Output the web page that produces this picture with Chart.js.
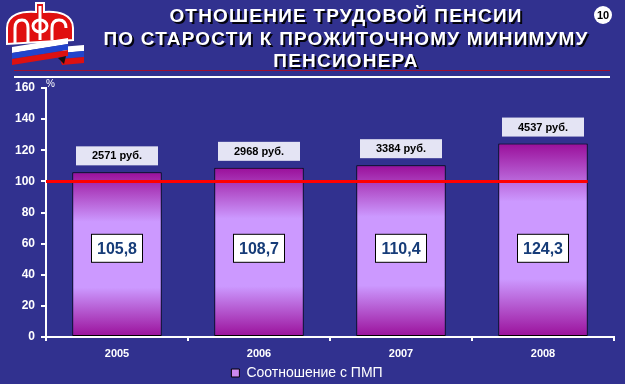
<!DOCTYPE html>
<html>
<head>
<meta charset="utf-8">
<script src="https://cdn.jsdelivr.net/npm/chart.js@4.4.1/dist/chart.umd.min.js"></script>
<style>
  html, body { margin: 0; padding: 0; background: #31318f; }
  #wrap { width: 625px; height: 384px; }
</style>
</head>
<body>
<div id="wrap"><canvas id="chart" width="625" height="384"></canvas></div>
<script>
const years = ['2005', '2006', '2007', '2008'];
const ratio = [105.8, 108.7, 110.4, 124.3];
const pension = [2571, 2968, 3384, 4537];
const subsistenceLevel = 100;
const titleLines = ['ОТНОШЕНИЕ ТРУДОВОЙ ПЕНСИИ', 'ПО СТАРОСТИ К ПРОЖИТОЧНОМУ МИНИМУМУ', 'ПЕНСИОНЕРА'];
const seriesName = 'Соотношение с ПМП';
const slideNo = '10';

const FONT = 'Arial, "Liberation Sans", sans-serif';

// per-bar vertical gradient: magenta at the ends, lavender in the middle
function barGradient(context) {
  const chart = context.chart;
  const area = chart.chartArea;
  if (!area || context.dataIndex === undefined) return '#cc88ee';
  const top = chart.scales.y.getPixelForValue(context.raw);
  const g = chart.ctx.createLinearGradient(0, top, 0, area.bottom);
  g.addColorStop(0, '#9a0f9a');
  g.addColorStop(0.3, '#cc99ff');
  g.addColorStop(0.7, '#cc99ff');
  g.addColorStop(1, '#9a0f9a');
  return g;
}

function drawLogo(ctx) {
  ctx.save();
  // red emblem with white rim
  ctx.beginPath();
  ctx.moveTo(7, 44);
  ctx.lineTo(7, 28);
  ctx.bezierCurveTo(7, 14, 22, 11, 36, 12);
  ctx.lineTo(36, 3);
  ctx.lineTo(44, 3);
  ctx.lineTo(44, 12);
  ctx.bezierCurveTo(58, 11, 73, 14, 73, 28);
  ctx.lineTo(73, 40);
  ctx.closePath();
  ctx.fillStyle = '#e01010';
  ctx.fill();
  ctx.strokeStyle = '#ffffff';
  ctx.lineWidth = 2;
  ctx.stroke();
  // inner white strokes forming the letters
  ctx.lineWidth = 3;
  ctx.beginPath();
  ctx.moveTo(15, 44); ctx.lineTo(15, 28);
  ctx.quadraticCurveTo(15, 20, 22, 20);
  ctx.quadraticCurveTo(28, 20, 28, 28);
  ctx.lineTo(28, 42);
  ctx.moveTo(40, 6); ctx.lineTo(40, 40);
  ctx.moveTo(52, 40); ctx.lineTo(52, 28);
  ctx.quadraticCurveTo(52, 20, 59, 20);
  ctx.quadraticCurveTo(66, 20, 66, 28);
  ctx.stroke();
  ctx.beginPath();
  ctx.ellipse(40, 26, 7, 6, 0, 0, Math.PI * 2);
  ctx.stroke();
  // flag ribbon
  const stripes = ['#ffffff', '#2244cc', '#dd1111'];
  stripes.forEach((c, i) => {
    ctx.fillStyle = c;
    ctx.beginPath();
    ctx.moveTo(12, 47 + i * 6);
    ctx.lineTo(68, 38 + i * 6);
    ctx.lineTo(68, 44 + i * 6);
    ctx.lineTo(12, 53 + i * 6);
    ctx.closePath();
    ctx.fill();
    ctx.beginPath();
    ctx.moveTo(60, 47 + i * 6);
    ctx.lineTo(84, 45 + i * 6);
    ctx.lineTo(84, 51 + i * 6);
    ctx.lineTo(62, 53 + i * 6);
    ctx.closePath();
    ctx.fill();
  });
  ctx.fillStyle = '#111';
  ctx.beginPath();
  ctx.moveTo(58, 58); ctx.lineTo(66, 56); ctx.lineTo(64, 64); ctx.closePath();
  ctx.fill();
  ctx.restore();
}

const slideDecor = {
  id: 'slideDecor',
  beforeDraw(chart) {
    const { ctx } = chart;
    ctx.save();
    ctx.fillStyle = '#31318f';
    ctx.fillRect(0, 0, chart.width, chart.height);
    drawLogo(ctx);

    // title with dark shadow
    ctx.font = 'bold 19px ' + FONT;
    ctx.letterSpacing = '1.2px';
    ctx.textAlign = 'center';
    ctx.textBaseline = 'middle';
    ctx.shadowColor = 'rgba(0,0,0,0.9)';
    ctx.shadowOffsetX = 2;
    ctx.shadowOffsetY = 2;
    ctx.fillStyle = '#ffffff';
    titleLines.forEach((t, i) => ctx.fillText(t, 346, 17 + i * 22.5));
    ctx.shadowColor = 'transparent';
    ctx.letterSpacing = '0px';

    // separator lines
    ctx.fillStyle = '#a01030';
    ctx.fillRect(14, 70, 596, 1);
    ctx.fillStyle = '#ffffff';
    ctx.fillRect(14, 76, 596, 2);

    // slide number
    ctx.beginPath();
    ctx.arc(603, 15, 9, 0, Math.PI * 2);
    ctx.fillStyle = '#ffffff';
    ctx.fill();
    ctx.fillStyle = '#000000';
    ctx.font = 'bold 11px ' + FONT;
    ctx.fillText(slideNo, 603, 15.5);

    // unit label
    ctx.fillStyle = '#ffffff';
    ctx.font = '10px ' + FONT;
    ctx.textAlign = 'left';
    ctx.fillText('%', 46, 84);
    ctx.restore();
  },
  afterDatasetsDraw(chart) {
    const { ctx, chartArea } = chart;
    const y = chart.scales.y;
    const bars = chart.getDatasetMeta(0).data;
    ctx.save();

    // subsistence minimum line
    const ly = y.getPixelForValue(subsistenceLevel);
    const last = bars[bars.length - 1];
    ctx.strokeStyle = '#ff0000';
    ctx.lineWidth = 3;
    ctx.beginPath();
    ctx.moveTo(chartArea.left, ly);
    ctx.lineTo(last.x + last.width / 2, ly);
    ctx.stroke();

    ctx.textAlign = 'center';
    ctx.textBaseline = 'middle';
    bars.forEach((bar, i) => {
      // ratio value box inside the bar
      const cy = y.getPixelForValue(57);
      ctx.fillStyle = '#ffffff';
      ctx.fillRect(bar.x - 25.5, cy - 14, 51, 28);
      ctx.strokeStyle = '#000000';
      ctx.lineWidth = 1;
      ctx.strokeRect(bar.x - 25.5, cy - 14, 51, 28);
      ctx.fillStyle = '#163c78';
      ctx.font = 'bold 16px ' + FONT;
      ctx.fillText(ratio[i].toFixed(1).replace('.', ','), bar.x, cy + 1);

      // pension amount above the bar
      const by = bar.y - 7;
      ctx.fillStyle = '#e4e4f4';
      ctx.fillRect(bar.x - 41, by - 19, 82, 19);
      ctx.fillStyle = '#000000';
      ctx.font = 'bold 11px ' + FONT;
      ctx.fillText(pension[i] + ' руб.', bar.x, by - 9);
    });
    ctx.restore();
  }
};

new Chart(document.getElementById('chart'), {
  type: 'bar',
  data: {
    labels: years,
    datasets: [{
      label: seriesName,
      data: ratio,
      backgroundColor: barGradient,
      borderColor: '#000000',
      borderWidth: 1,
      borderSkipped: false,
      barPercentage: 0.63,
      categoryPercentage: 1.0
    }]
  },
  options: {
    responsive: false,
    animation: false,
    layout: { padding: { top: 88, right: 11, left: 0, bottom: -6 } },
    plugins: {
      title: { display: false },
      tooltip: { enabled: false },
      legend: {
        position: 'bottom',
        labels: {
          color: '#ffffff',
          font: { family: FONT, size: 14 },
          boxWidth: 8,
          boxHeight: 8,
          padding: 4,
          generateLabels: () => [{
            text: seriesName,
            fillStyle: '#cc88ee',
            strokeStyle: '#000000',
            lineWidth: 1,
            fontColor: '#ffffff'
          }]
        }
      }
    },
    scales: {
      x: {
        afterFit: s => { s.height = 25; },
        grid: {
          offset: true,
          drawOnChartArea: false,
          drawTicks: true,
          tickLength: 4,
          tickColor: '#ffffff',
          lineWidth: 2
        },
        border: { color: '#ffffff', width: 2 },
        ticks: {
          color: '#ffffff',
          padding: 6,
          font: { family: FONT, size: 11, weight: 'bold' }
        }
      },
      y: {
        min: 0,
        max: 160,
        afterFit: s => { s.width = 46; },
        grid: {
          drawOnChartArea: false,
          drawTicks: true,
          tickLength: 5,
          tickColor: '#ffffff',
          lineWidth: 2
        },
        border: { color: '#ffffff', width: 2 },
        ticks: {
          stepSize: 20,
          color: '#ffffff',
          padding: 6,
          font: { family: FONT, size: 12, weight: 'bold' }
        }
      }
    }
  },
  plugins: [slideDecor]
});
</script>
</body>
</html>
